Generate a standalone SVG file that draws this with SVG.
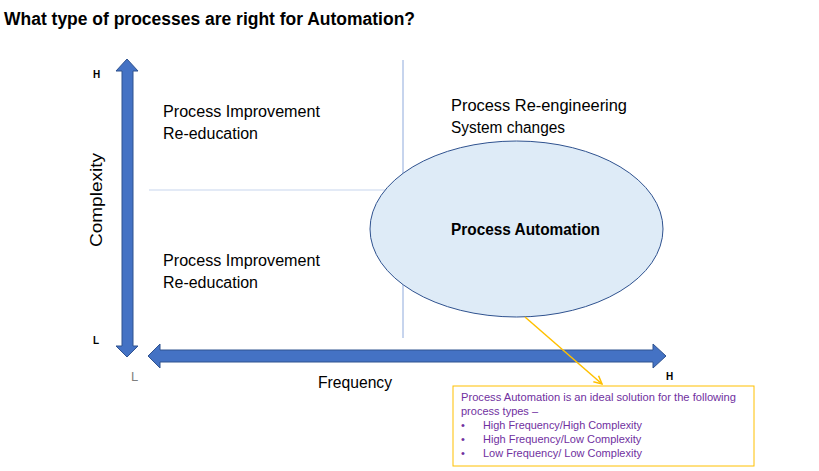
<svg xmlns="http://www.w3.org/2000/svg" width="819" height="471" viewBox="0 0 819 471">
<defs>
<style>
text{font-family:"Liberation Sans",Arial,sans-serif;fill:#000}
.lbl{font-size:16px}
.ax{font-size:10px;font-weight:bold}
.note{font-size:11px;fill:#7030A0}
.bar{fill:#4472C4;stroke:#2F528F;stroke-width:1}
</style>
<marker id="yh" viewBox="0 0 10 10" refX="9" refY="5" markerWidth="10" markerHeight="10" markerUnits="userSpaceOnUse" orient="auto">
<path d="M1,1 L9,5 L1,9" fill="none" stroke="#FFC000" stroke-width="1.5"/>
</marker>
</defs>
<rect width="819" height="471" fill="#fff"/>
<text x="4" y="25" font-size="18" font-weight="bold" textLength="411" lengthAdjust="spacingAndGlyphs">What type of processes are right for Automation?</text>

<g id="grid">
<line x1="403" y1="60" x2="403" y2="338" stroke="#8FAADC" stroke-width="1"/>
<line x1="149" y1="190" x2="390" y2="190" stroke="#DAE3F3" stroke-width="1.5"/>
</g>

<g id="y-axis">
<path class="bar" d="M127,59 L138,71 L133,71 L133,346 L138,346 L127,357 L116,346 L122,346 L122,71 L116,71 Z"/>
<text class="ax" x="93" y="78">H</text>
<text class="ax" x="93" y="344">L</text>
<text class="lbl" transform="translate(102,200) rotate(-90)" text-anchor="middle" textLength="94" lengthAdjust="spacingAndGlyphs">Complexity</text>
</g>

<g id="x-axis">
<path class="bar" d="M148,356 L160,344 L160,350 L653,350 L653,344 L666,356 L653,368 L653,362 L160,362 L160,368 Z"/>
<text x="131" y="381" font-size="13" style="fill:#7F7F7F">L</text>
<text class="ax" x="666" y="380" font-size="11">H</text>
<text class="lbl" x="355" y="388" text-anchor="middle" textLength="74" lengthAdjust="spacingAndGlyphs">Frequency</text>
</g>

<g id="q-top-left">
<text class="lbl" x="163" y="117" textLength="157" lengthAdjust="spacingAndGlyphs">Process Improvement</text>
<text class="lbl" x="163" y="139" textLength="95" lengthAdjust="spacingAndGlyphs">Re-education</text>
</g>

<g id="q-top-right">
<text class="lbl" x="451" y="111" textLength="176" lengthAdjust="spacingAndGlyphs">Process Re-engineering</text>
<text class="lbl" x="451" y="133" textLength="114" lengthAdjust="spacingAndGlyphs">System changes</text>
</g>

<g id="q-bottom-left">
<text class="lbl" x="163" y="266" textLength="157" lengthAdjust="spacingAndGlyphs">Process Improvement</text>
<text class="lbl" x="163" y="288" textLength="95" lengthAdjust="spacingAndGlyphs">Re-education</text>
</g>

<g id="automation">
<ellipse cx="516.5" cy="229" rx="146.5" ry="88" fill="#DEEBF7" stroke="#2F528F" stroke-width="1"/>
<text x="525.5" y="235" font-size="16" font-weight="bold" text-anchor="middle" textLength="149" lengthAdjust="spacingAndGlyphs">Process Automation</text>
</g>

<g id="connectors">
<line x1="525" y1="317" x2="602" y2="384" stroke="#FFC000" stroke-width="1.5" marker-end="url(#yh)"/>
</g>

<g id="note">
<rect x="453" y="386" width="301" height="80" fill="#fff" stroke="#FFC000" stroke-width="1"/>
<text class="note" x="461" y="401" textLength="275" lengthAdjust="spacingAndGlyphs">Process Automation is an ideal solution for the following</text>
<text class="note" x="461" y="415">process types –</text>
<text class="note" x="461" y="429">•</text><text class="note" x="483" y="429" textLength="159" lengthAdjust="spacingAndGlyphs">High Frequency/High Complexity</text>
<text class="note" x="461" y="443">•</text><text class="note" x="483" y="443">High Frequency/Low Complexity</text>
<text class="note" x="461" y="457">•</text><text class="note" x="483" y="457">Low Frequency/ Low Complexity</text>
</g>
</svg>
